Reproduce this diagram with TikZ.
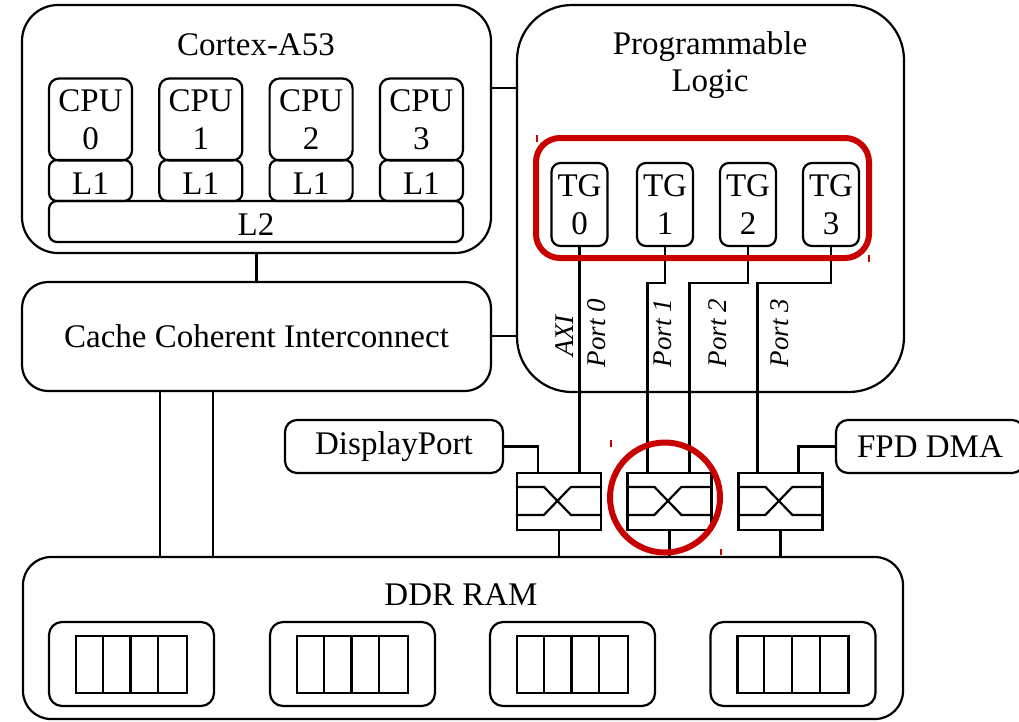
\documentclass[tikz,border=0pt]{standalone}
\usepackage{fontspec}
\setmainfont{Liberation Serif}
\usetikzlibrary{calc}
\definecolor{hl}{RGB}{200,0,0}
\begin{document}
\begin{tikzpicture}[x=1pt,y=-1pt,line width=2.2pt,
  txt/.style={font=\fontsize{33}{38}\selectfont,inner sep=0pt},
  rbox/.style={draw,rounded corners=#1,inner sep=0pt,font=\fontsize{33}{38}\selectfont,align=center},
  rbox/.default=10pt,
  sharp/.style={draw,inner sep=0pt},
  portlbl/.style={font=\fontsize{27}{30}\selectfont\itshape,inner sep=0pt,rotate=90},
  hlline/.style={draw=hl,line width=6pt},
  tick/.style={hl,line width=1.5pt}]
\clip (0,0) rectangle (1019,721);
\useasboundingbox (0,0) rectangle (1019,721);

% Cortex-A53 cluster
\node[rbox=36pt,minimum width=469pt,minimum height=248pt] (cortex) at (256.5,129) {};
\node[txt,anchor=base] (cortexT) at (256,55) {Cortex-A53};
\foreach \i/\x in {0/90.5,1/200.8,2/311.1,3/421.4}{
  \node[rbox=10pt,minimum width=83pt,minimum height=82pt] (cpu\i) at (\x,119.5) {CPU\\\i};
  \node[rbox=8pt,minimum width=83pt,minimum height=41pt,text height=28pt,text depth=0pt] (l1\i) at (\x,180.5) {L1};
}
\node[rbox=8pt,minimum width=414pt,minimum height=41pt,text height=28pt,text depth=0pt] (l2) at (256,221.5) {L2};

% Cache Coherent Interconnect
\node[rbox=26pt,minimum width=469pt,minimum height=109pt] (cci) at (256.5,336.5) {Cache Coherent Interconnect};
\draw (cortex.south) -- (cci.north);

% Programmable Logic
\node[rbox=55pt,minimum width=387pt,minimum height=387pt] (pl) at (710.5,198.5) {};
\node[txt,align=center,font=\fontsize{33}{37}\selectfont] (plT) at (710,65) {Programmable\\Logic};
\draw (cortex.east |- 0,88) -- (pl.west |- 0,88);
\draw (cci.east |- 0,336) -- (pl.west |- 0,336);

\foreach \i/\x in {0/579.5,1/665,2/748,3/831}{
  \node[rbox=9pt,minimum width=56pt,minimum height=83pt] (tg\i) at (\x,204.5) {TG\\\i};
}

% DDR RAM
\node[rbox=28pt,minimum width=880pt,minimum height=162pt] (ddr) at (463,638) {};
\node[txt,anchor=base] (ddrT) at (461,605) {DDR RAM};
\foreach \i/\x in {0/131.5,1/352.5,2/572.5,3/793}{
  \node[rbox=13pt,minimum width=165pt,minimum height=84pt] (bank\i) at (\x,664) {};
  \node[sharp,minimum width=111pt,minimum height=57pt] (q\i) at (\x,664.5) {};
  \foreach \k in {1,2,3}{
    \draw ($(q\i.north west)+(27.75*\k,0)$) -- ($(q\i.south west)+(27.75*\k,0)$);
  }
}
\draw (cci.south -| 160,0) -- (ddr.north -| 160,0);
\draw (cci.south -| 213,0) -- (ddr.north -| 213,0);

% Switches
\foreach \s/\x in {sw1/559,sw2/669.5,sw3/780.5}{
  \node[sharp,minimum width=84pt,minimum height=57pt] (\s) at (\x,501.5) {};
  \draw ($(\s.north west)+(0,15)$) -- ++(28,0) -- ++(27,28) -- ($(\s.north east)+(0,43)$);
  \draw ($(\s.north west)+(0,43)$) -- ++(28,0) -- ++(27,-28) -- ($(\s.north east)+(0,15)$);
  \draw (\s.south) -- (\s.south |- ddr.north);
}

% Peripherals
\node[rbox=12pt,minimum width=218pt,minimum height=53pt] (dp) at (394,446.5) {DisplayPort};
\node[rbox=12pt,minimum width=188pt,minimum height=53pt] (fpd) at (930,446.5) {FPD DMA};
\draw (dp.east) -| ($(sw1.north west)+(22,0)$);
\draw (fpd.west) -| ($(sw3.north west)+(61,0)$);

% TG to switch ports
\draw (tg0.south) -- (tg0.south |- sw1.north);
\draw (tg1.south) -- ++(0,36) -| ($(sw2.north west)+(21,0)$);
\draw (tg2.south) -- ++(0,36) -| ($(sw2.north west)+(63,0)$);
\draw (tg3.south) -- ++(0,36) -| ($(sw3.north west)+(20,0)$);

\node[portlbl] (axi) at (565,336) {AXI};
\node[portlbl] (p0) at (597,333) {Port 0};
\node[portlbl] (p1) at (663,333) {Port 1};
\node[portlbl] (p2) at (718,333) {Port 2};
\node[portlbl] (p3) at (780,333) {Port 3};

% Highlights
\node[hlline,rounded corners=24pt,minimum width=333pt,minimum height=120pt,inner sep=0pt] (hlA) at (702.5,198) {};
\node[hlline,circle,minimum size=110pt,inner sep=0pt] (hlB) at (665,497.5) {};
\draw[tick] (537,135) -- (537,142);
\draw[tick] (869,255) -- (869,262);
\draw[tick] (611,440) -- (611,447);
\draw[tick] (721,549) -- (721,555);
\end{tikzpicture}
\end{document}
